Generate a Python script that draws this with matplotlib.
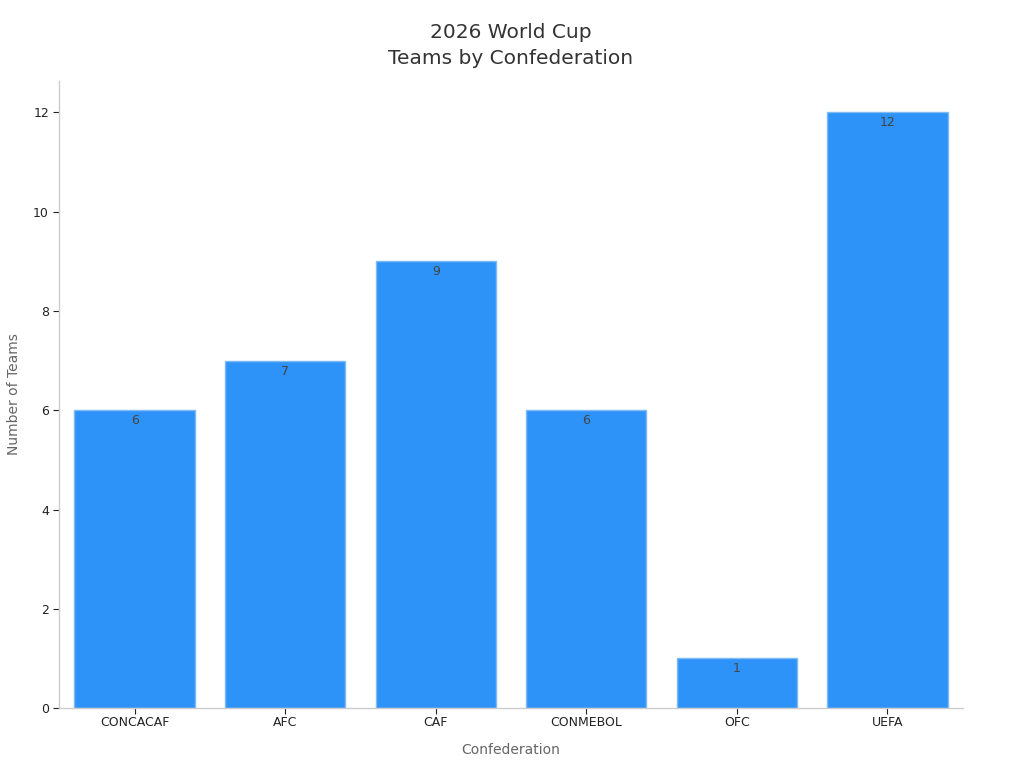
import matplotlib
matplotlib.use('Agg')
import matplotlib.pyplot as plt

confederacoes = ['CONCACAF', 'AFC', 'CAF', 'CONMEBOL', 'OFC', 'UEFA']
equipes = [6, 7, 9, 6, 1, 12]

fig, ax = plt.subplots(figsize=(10.24, 7.68), dpi=100)
fig.subplots_adjust(left=0.058, right=0.94, top=0.895, bottom=0.078)

barras = ax.bar(confederacoes, equipes, width=0.8, color='#2e93f8', edgecolor='#7fbaf5', linewidth=1)
for b, v in zip(barras, equipes):
    ax.text(b.get_x() + b.get_width() / 2, v - 0.08, str(v), ha='center', va='top',
            fontsize=9, color='#444444')

ax.set_xlim(-0.5, 5.5)
ax.set_ylim(0, 12.64)
ax.set_title('2026 World Cup\nTeams by Confederation', fontsize=14.5, color='#333333',
             pad=12, linespacing=1.45)
ax.set_xlabel('Confederation', fontsize=10, color='#666666', labelpad=10)
ax.set_ylabel('Number of Teams', fontsize=10, color='#666666', labelpad=9)
ax.tick_params(axis='both', labelsize=9, colors='#222222', length=4, width=0.8)
ax.tick_params(axis='x', pad=2)
for lado in ['top', 'right']:
    ax.spines[lado].set_visible(False)
for lado in ['left', 'bottom']:
    ax.spines[lado].set_color('#cccccc')
    ax.spines[lado].set_linewidth(1)

plt.savefig('out.png')
